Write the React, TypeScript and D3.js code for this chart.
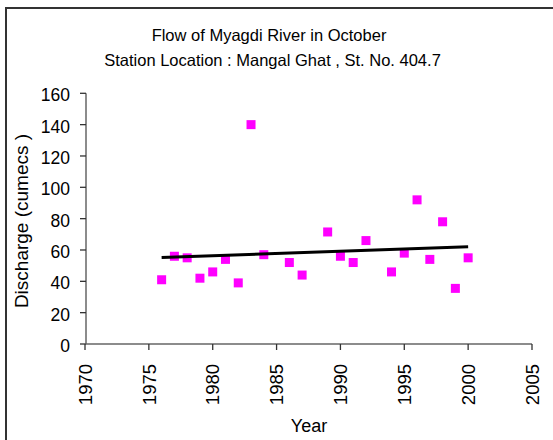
import React from "react";
import * as d3 from "d3";

const years = [1976, 1977, 1978, 1979, 1980, 1981, 1982, 1983, 1984, 1986, 1987, 1989, 1990, 1991, 1992, 1994, 1995, 1996, 1997, 1998, 1999, 2000];
const discharge = [41, 56, 55, 42, 46, 54, 39, 140, 57, 52, 44, 71.5, 56, 52, 66, 46, 58, 92, 54, 78, 35.5, 55];
const xTicks = [1970, 1975, 1980, 1985, 1990, 1995, 2000, 2005];
const yTicks = [0, 20, 40, 60, 80, 100, 120, 140, 160];
const titleLines = ["Flow of Myagdi River in October", "Station Location : Mangal Ghat , St. No. 404.7"];

export default function App() {
  const x = d3.scaleLinear().domain([1970, 2005]).range([85, 532]);
  const y = d3.scaleLinear().domain([0, 160]).range([344, 93.3]);
  const font = "Liberation Sans, Arial, sans-serif";

  const mx = d3.mean(years)!;
  const my = d3.mean(discharge)!;
  const sxy = d3.sum(years, (v, i) => (v - mx) * (discharge[i] - my));
  const sxx = d3.sum(years, (v) => (v - mx) * (v - mx));
  const slope = sxy / sxx;
  const icpt = my - slope * mx;
  const x0 = d3.min(years)!;
  const x1 = d3.max(years)!;
  const line = d3.line<number>().x((d) => x(d)).y((d) => y(icpt + slope * d));

  const s = 9;
  return (
    <svg width={553} height={440} style={{ position: "absolute", left: 0, top: 0, background: "#fff" }} fontFamily={font}>
      <rect x={6} y={8} width={700} height={600} fill="none" stroke="#333" strokeWidth={2} />
      <text x={269} y={40.5} textAnchor="middle" fontSize={16.5} fill="#000">{titleLines[0]}</text>
      <text x={272.5} y={66} textAnchor="middle" fontSize={16.5} fill="#000">{titleLines[1]}</text>

      {/* y axis */}
      <line x1={86} x2={86} y1={y(160)} y2={y(0)} stroke="#666" strokeWidth={1.5} />
      {yTicks.map((t) => (
        <g key={t}>
          <line x1={80} x2={86} y1={y(t)} y2={y(t)} stroke="#333" strokeWidth={1.3} />
          <text x={70} y={y(t) + 2} textAnchor="end" dominantBaseline="central" fontSize={17.5} fill="#000">{t}</text>
        </g>
      ))}
      <text transform={`translate(28,221) rotate(-90)`} textAnchor="middle" fontSize={19} fill="#000">Discharge (cumecs )</text>

      {/* x axis */}
      <line x1={x(1970)} x2={x(2005)} y1={344} y2={344} stroke="#666" strokeWidth={1.5} />
      {xTicks.map((t) => (
        <g key={t}>
          <line x1={x(t)} x2={x(t)} y1={344} y2={350} stroke="#333" strokeWidth={1.3} />
          <text transform={`translate(${x(t) + 6.7},364) rotate(-90)`} textAnchor="end" fontSize={18.5} fill="#000">{t}</text>
        </g>
      ))}
      <text x={309} y={432} textAnchor="middle" fontSize={18} fill="#000">Year</text>

      {/* points */}
      {years.map((yr, i) => (
        <rect key={yr} x={x(yr) - s / 2} y={y(discharge[i]) - s / 2} width={s} height={s} fill="#FF00FF" />
      ))}
      {/* trend */}
      <path d={line([x0, x1])!} stroke="#000" strokeWidth={3} fill="none" />
    </svg>
  );
}
